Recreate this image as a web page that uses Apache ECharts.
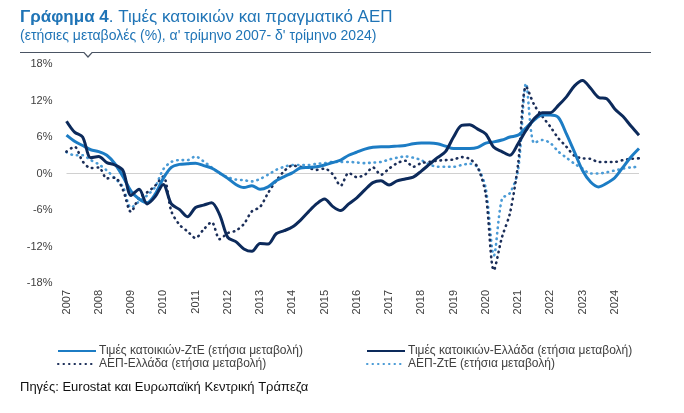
<!DOCTYPE html>
<html>
<head>
<meta charset="utf-8">
<script src="https://cdn.jsdelivr.net/npm/echarts@6/dist/echarts.min.js"></script>
<style>
  html, body { margin: 0; padding: 0; background: #fff; }
  #chart { width: 684px; height: 413px; }
</style>
</head>
<body>
<div id="chart"></div>
<script>
// quarterly data, Q1 2007 - Q4 2024
var years = ["2007", "2008", "2009", "2010", "2011", "2012", "2013", "2014", "2015",
    "2016", "2017", "2018", "2019", "2020", "2021", "2022", "2023", "2024"];
var quarters = ["Q1", "Q2", "Q3", "Q4"];
var yTicks = [-18, -12, -6, 0, 6, 12, 18];

// Τιμές κατοικιών-ΖτΕ
var housePricesEA = [
    6.3, 5.3, 4.6, 3.9, 3.6, 3.0, 1.6, -0.5,
    -2.9, -4.2, -4.8, -3.4, -0.8, 1.0, 1.5, 1.6,
    1.7, 1.3, 0.9, 0.1, -0.8, -1.8, -2.3, -2.0,
    -2.6, -2.2, -1.2, -0.5, 0.1, 0.9, 1.0, 1.1,
    1.4, 1.8, 2.2, 3.0, 3.5, 4.0, 4.3, 4.4,
    4.4, 4.5, 4.6, 4.9, 5.0, 5.0, 4.9, 4.5,
    4.1, 4.1, 4.1, 4.3, 5.0, 5.2, 5.5, 6.0,
    6.3, 7.5, 8.8, 9.6, 9.6, 9.2, 6.5, 3.5,
    0.5, -1.4, -2.2, -1.6, -0.7, 1.0, 2.7, 4.1
];
// Τιμές κατοικιών-Ελλάδα
var housePricesGR = [
    8.6, 6.8, 6.0, 2.6, 2.8, 1.8, 1.4, 0.5,
    -3.6, -2.6, -5.0, -3.8, -1.8, -5.0, -5.9, -7.1,
    -5.6, -5.2, -4.8, -6.8, -10.5, -11.2, -12.4, -12.8,
    -11.5, -11.6, -9.9, -9.4, -8.8, -7.7, -6.3, -5.0,
    -4.2, -5.4, -6.1, -5.0, -4.0, -2.7, -1.5, -1.2,
    -1.9, -1.2, -0.9, -0.6, 0.4, 1.5, 2.6, 3.6,
    6.0, 7.9, 8.0, 7.3, 6.5, 4.3, 3.6, 3.0,
    4.9, 7.1, 9.0, 10.0, 10.0, 11.2, 12.6, 14.4,
    15.3, 14.0, 12.5, 12.3, 10.6, 9.4, 7.8, 6.3
];
// ΑΕΠ-Ελλάδα
var gdpGR = [
    3.6, 4.4, 2.0, 0.9, 1.0, -0.8, -0.7, -2.7,
    -6.3, -4.0, -3.1, -2.0, -0.5, -6.2, -8.4, -9.5,
    -10.6, -9.2, -8.0, -10.8, -9.8, -9.4, -8.3, -6.2,
    -5.5, -3.2, -1.2, 0.4, 1.3, 1.1, 0.9, 0.6,
    0.8, -0.1, -2.0, 0.1, -0.6, -0.2, 1.0, -0.2,
    0.8, 1.7, 2.1, 1.1, 1.7, 1.9, 2.1, 2.2,
    2.3, 2.7, 2.4, 1.0, -3.5, -15.9, -10.5, -6.5,
    1.5, 14.3, 11.3, 9.4, 7.7, 5.8, 4.4, 2.9,
    2.5, 2.4, 1.9, 1.9, 1.9, 2.2, 2.4, 2.5
];
// ΑΕΠ-ΖτΕ
var gdpEA = [
    3.5, 3.0, 3.0, 2.2, 1.5, 0.5, -0.8, -2.2,
    -5.6, -4.6, -3.6, -2.2, 0.7, 1.9, 2.2, 2.2,
    2.8, 2.0, 1.0, 0.0, -0.6, -1.0, -1.1, -1.3,
    -0.9, -0.2, 0.6, 1.1, 1.4, 1.4, 1.4, 1.6,
    1.7, 1.9, 1.9, 1.9, 1.8, 1.7, 1.8, 1.9,
    2.3, 2.6, 2.8, 2.6, 2.2, 1.5, 1.1, 1.1,
    1.1, 1.4, 1.6, 1.0, -2.5, -13.5, -4.2, -3.2,
    0.5, 14.8, 5.0, 5.5, 5.0, 3.6, 2.6, 1.6,
    0.8, 0.0, 0.0, 0.2, 0.5, 0.8, 1.0, 1.1
];

var categories = [];
years.forEach(function(y) {
    quarters.forEach(function(q) {
        categories.push(y + q);
    });
});

var names = [
    "Τιμές κατοικιών-ΖτΕ (ετήσια μεταβολή)",
    "Τιμές κατοικιών-Ελλάδα (ετήσια μεταβολή)",
    "ΑΕΠ-Ελλάδα (ετήσια μεταβολή)",
    "ΑΕΠ-ΖτΕ (ετήσια μεταβολή)"
];

var FONT = "Liberation Sans, Arial, sans-serif";
var myChart = echarts.init(document.getElementById("chart"));

function legendBox(left, data) {
    return {
        left: left,
        top: 340,
        orient: "vertical",
        itemWidth: 38,
        itemHeight: 10,
        itemGap: 1,
        data: data,
        itemStyle: { opacity: 0 },
        textStyle: { fontFamily: FONT, fontSize: 12, color: "#404040", padding: [0, 0, 0, -2] }
    };
}

var option = {
    backgroundColor: "#fff",
    animation: false,
    title: {
        left: 15,
        top: 4,
        text: "{b|Γράφημα 4}. Τιμές κατοικιών και πραγματικό ΑΕΠ",
        subtext: "(ετήσιες μεταβολές (%), α' τρίμηνο 2007- δ' τρίμηνο 2024)",
        itemGap: 3,
        textStyle: {
            fontFamily: FONT,
            fontSize: 17,
            fontWeight: "normal",
            color: "#1f74b6",
            rich: {
                b: { fontFamily: FONT, fontSize: 17, fontWeight: "bold", color: "#1f74b6" }
            }
        },
        subtextStyle: {
            fontFamily: FONT,
            fontSize: 14,
            color: "#1f74b6"
        }
    },
    legend: [
        legendBox(52, [names[0], names[2]]),
        legendBox(361, [names[1], names[3]])
    ],
    grid: {
        left: 66.5,
        right: 45,
        top: 64,
        bottom: 130
    },
    xAxis: {
        type: "category",
        boundaryGap: false,
        data: categories,
        axisLine: { show: false, onZero: false },
        axisTick: { show: false },
        axisLabel: {
            rotate: 90,
            margin: 7,
            fontFamily: FONT,
            fontSize: 11,
            color: "#404040",
            interval: function(index) {
                return index % 4 === 0;
            },
            formatter: function(value) {
                return value.slice(0, 4);
            }
        }
    },
    yAxis: {
        type: "value",
        min: yTicks[0],
        max: yTicks[yTicks.length - 1],
        interval: 6,
        axisLine: { show: false },
        axisTick: { show: false },
        splitLine: { show: false },
        axisLabel: {
            margin: 14,
            fontFamily: FONT,
            fontSize: 11,
            color: "#404040",
            formatter: "{value}%"
        }
    },
    graphic: [
        {
            type: "polyline",
            silent: true,
            shape: { points: [[20, 52.5], [84, 52.5], [88, 57], [92, 52.5], [651, 52.5]] },
            style: { stroke: "#4a5463", lineWidth: 1.2, fill: null }
        },
        {
            type: "text",
            left: 20,
            top: 381,
            style: {
                text: "Πηγές: Eurostat και Ευρωπαϊκή Κεντρική Τράπεζα",
                font: "13px " + FONT,
                fill: "#111"
            }
        }
    ],
    series: [
        {
            name: names[3],
            type: "line",
            data: gdpEA,
            symbol: "none",
            smooth: 0.3,
            z: 2,
            itemStyle: { color: "#4a9bd6" },
            lineStyle: { color: "#4a9bd6", width: 2.6, type: [0.5, 5], cap: "round" }
        },
        {
            name: names[2],
            type: "line",
            data: gdpGR,
            symbol: "none",
            smooth: 0.3,
            z: 3,
            itemStyle: { color: "#1b2e59" },
            lineStyle: { color: "#1b2e59", width: 2.6, type: [0.5, 5], cap: "round" },
            markLine: {
                silent: true,
                symbol: "none",
                label: { show: false },
                lineStyle: { color: "#d0d0d0", width: 1, type: "solid" },
                data: [{ yAxis: 0 }],
                z: 1
            }
        },
        {
            name: names[0],
            type: "line",
            data: housePricesEA,
            symbol: "none",
            smooth: 0.3,
            z: 4,
            itemStyle: { color: "#1c7cc4" },
            lineStyle: { color: "#1c7cc4", width: 3 }
        },
        {
            name: names[1],
            type: "line",
            data: housePricesGR,
            symbol: "none",
            smooth: 0.3,
            z: 5,
            itemStyle: { color: "#0c2a5b" },
            lineStyle: { color: "#0c2a5b", width: 3 }
        }
    ]
};

myChart.setOption(option);
window.addEventListener("resize", function() {
    myChart.resize();
});
</script>
</body>
</html>
